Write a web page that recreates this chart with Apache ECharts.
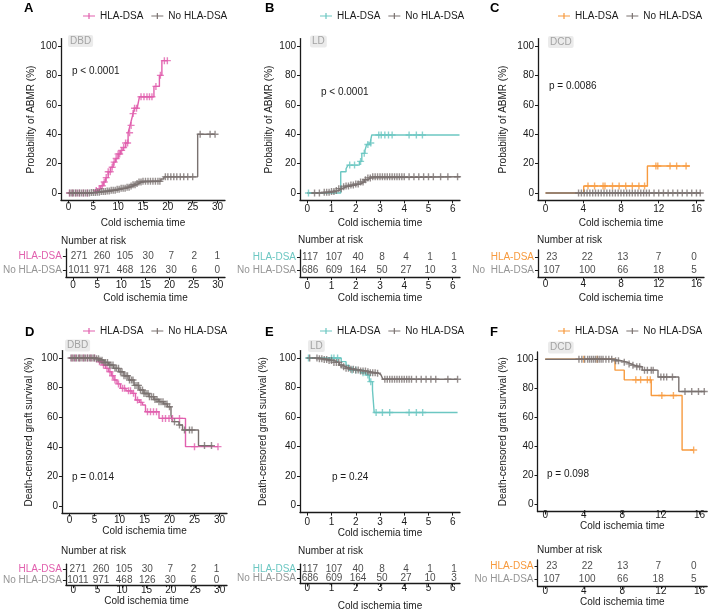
<!DOCTYPE html>
<html><head><meta charset="utf-8">
<script src="https://cdn.jsdelivr.net/npm/echarts@6/dist/echarts.min.js"></script>
<style>html,body{margin:0;padding:0;background:#fff}#c{width:708px;height:612px}</style>
</head><body><div id="c"></div>
<script>
// ---------------- DATA ----------------
const riskRows = ['No HLA-DSA', 'HLA-DSA'];
const ticksDBD = [0, 5, 10, 15, 20, 25, 30];
const ticksLD = [0, 1, 2, 3, 4, 5, 6];
const ticksDCD = [0, 4, 8, 12, 16];
const yTicks = [0, 20, 40, 60, 80, 100];

const riskA_dsa = [271, 260, 105, 30, 7, 2, 1];
const riskA_no = [1011, 971, 468, 126, 30, 6, 0];
const riskB_dsa = [117, 107, 40, 8, 4, 1, 1];
const riskB_no = [686, 609, 164, 50, 27, 10, 3];
const riskC_dsa = [23, 22, 13, 7, 0];
const riskC_no = [107, 100, 66, 18, 5];
const riskD_dsa = [271, 260, 105, 30, 7, 2, 1];
const riskD_no = [1011, 971, 468, 126, 30, 6, 0];
const riskE_dsa = [117, 107, 40, 8, 4, 1, 1];
const riskE_no = [686, 609, 164, 50, 27, 10, 3];
const riskF_dsa = [23, 22, 13, 7, 0];
const riskF_no = [107, 100, 66, 18, 5];

// KM step curves [time, %]
const A_dsa = [[0,0],[4.4,0.5],[5,1],[5.5,1.8],[6,3],[6.5,5],[7,7.5],[7.5,10.5],[8,14.5],[8.5,17.5],[9,21],[9.5,23.5],[10,26.5],[10.5,29],[11,31],[11.5,34],[12,41],[12.4,46],[12.7,50],[13,54],[13.3,57.6],[13.9,59],[14.3,65.5],[17.2,72.5],[18.3,80],[18.8,90],[19.9,90]];
const A_dsa_cens = [0.2,0.8,1.5,2.2,3,3.8,5.6,6.2,6.8,7.2,7.6,8,8.4,8.8,9.2,9.6,10,10.3,10.7,11.1,11.5,11.9,12.3,12.6,13,13.3,13.7,14.6,15.2,15.8,16.3,16.8,17.6,18.5,19.3,19.9];
const A_no = [[0,0],[4.5,0.3],[5.5,0.6],[6.5,1],[7.5,1.4],[8.5,1.9],[9.5,2.5],[10.5,3.2],[11.5,4],[12.3,4.8],[13,5.6],[13.6,6.5],[14.2,7.5],[14.8,8],[18.6,9.5],[19.2,11],[26,40],[29.5,40]];
const A_no_cens = [0.3,0.7,1,1.4,1.8,2.2,2.6,3,3.4,3.8,4.2,4.6,5,5.4,5.8,6.2,6.6,7,7.4,7.8,8.2,8.6,9,9.4,9.8,10.2,10.6,11,11.4,11.8,12.2,12.6,13,13.4,13.8,14.2,14.6,15,15.5,16,16.5,17,17.5,18,18.4,19.5,20,20.6,21.2,21.8,22.5,23.2,24,25,26.5,28.5,29.5];

const B_dsa = [[0,0],[1.38,14.5],[1.6,16.5],[1.68,19],[2.15,21.5],[2.25,27],[2.38,29],[2.45,33],[2.58,34],[2.66,39.5],[6.28,39.5]];
const B_dsa_cens = [0.05,1.75,1.95,2.2,2.35,2.5,2.62,2.95,3.05,3.2,3.35,3.5,4.2,4.5,4.75];
const B_no = [[0,0],[0.7,0.5],[0.95,1],[1.15,1.8],[1.3,3],[1.45,4.2],[1.6,4.8],[1.8,5.5],[2,6.2],[2.2,7.5],[2.35,9],[2.5,10.3],[2.62,11.1],[6.3,11.1]];
const B_no_cens = [0.3,0.5,0.7,0.8,0.9,1,1.1,1.2,1.3,1.4,1.5,1.6,1.7,1.8,1.9,2,2.1,2.2,2.3,2.4,2.5,2.6,2.7,2.8,2.9,3,3.1,3.2,3.3,3.4,3.5,3.6,3.7,3.8,3.9,4,4.2,4.4,4.6,4.8,5,5.2,5.5,5.8,6.2];

const C_dsa = [[0,0],[4.05,4.8],[10.8,18.4],[15.3,18.4]];
const C_dsa_cens = [4.5,5.2,6.1,6.3,7.1,7.8,8.5,9.2,9.9,10.5,11.7,11.9,13.2,13.9,14.9];
const C_no = [[0,0],[16.5,0]];
const C_no_cens = [3.5,3.8,4.1,4.4,4.7,5,5.3,5.6,5.9,6.2,6.5,6.8,7.1,7.4,7.7,8,8.3,8.6,8.9,9.2,9.5,9.8,10.1,10.4,10.7,11,11.5,12,12.5,13,13.5,14,14.5,15,15.5,16,16.4];

const D_dsa = [[0,100],[5.2,99],[5.8,97.5],[6.5,95.3],[7.2,93],[7.85,90.7],[8.4,88],[8.9,85.1],[9.5,82.5],[10.2,79.5],[11.3,77.8],[12.5,76.1],[13.2,71.6],[14,70],[14.6,68.2],[15.2,63.7],[17.9,59.2],[23.2,40.1],[29.7,40.1]];
const D_dsa_cens = [0.5,1.2,2,2.8,3.6,4.3,5,6,6.8,7.5,8.1,8.6,9.1,9.8,10.6,11,11.8,12.2,12.8,13.6,14.3,15.6,16.2,16.8,17.4,18.6,19.2,19.9,20.6,22,25,29.7];
const D_no = [[0,100],[5.2,99.5],[6,98.5],[6.9,97],[7.85,95.3],[8.8,93],[9.87,90.7],[10.9,88],[11.9,85.1],[12.9,81.5],[13.9,78.4],[14.9,76],[15.9,73.9],[16.9,72],[17.9,70.5],[18.8,69],[19.6,67.1],[20.3,61.5],[20.6,57],[21.9,54.7],[22.6,51.4],[25.8,40.8],[28.6,40.8]];
const D_no_cens = [0.3,0.7,1,1.4,1.8,2.1,2.5,2.9,3.2,3.6,4,4.3,4.7,5,5.4,5.8,6.1,6.5,6.9,7.2,7.6,8,8.3,8.7,9.1,9.4,9.8,10.2,10.5,10.9,11.3,11.6,12,12.4,12.7,13.1,13.5,13.8,14.2,14.6,14.9,15.3,15.7,16,16.4,16.8,17.1,17.5,17.9,18.3,18.7,19.1,19.5,20,21,22,23,24,24.5,27,28.4];

const E_dsa = [[0,100],[1.4,97.5],[1.6,95],[1.73,91.8],[2.2,90],[2.42,88.4],[2.56,83.9],[2.69,78.2],[2.76,63],[6.2,63]];
const E_dsa_cens = [0.05,1.0,1.1,1.25,1.85,2.0,2.3,2.5,2.62,2.84,3.1,3.4,4.2,4.5,4.76];
const E_no = [[0,100],[0.45,99.5],[0.7,99],[0.9,98.3],[1.1,97],[1.32,95.2],[1.45,94],[1.6,93],[1.8,92.3],[2,91.8],[2.2,91.2],[2.42,90.7],[2.6,90],[2.83,89.6],[2.95,88.5],[3.04,87.3],[3.12,85.5],[6.2,85.5]];
const E_no_cens = [0.1,0.4,0.5,0.6,0.7,0.8,0.9,1,1.1,1.2,1.3,1.4,1.5,1.6,1.7,1.8,1.9,2,2.1,2.2,2.3,2.4,2.5,2.6,2.7,2.8,2.9,3.2,3.3,3.4,3.5,3.6,3.7,3.8,3.9,4,4.1,4.2,4.3,4.5,4.7,4.9,5.1,5.3,5.8,6.2];

const F_dsa = [[0,100],[7.24,92.5],[8.2,85.8],[11,75],[14.2,37.4],[15.4,37.4]];
const F_dsa_cens = [4.0,5.4,9.4,9.9,10.6,10.9,12.1,13.3,15.4];
const F_no = [[0,100],[7.1,99],[7.9,98],[8.5,96.8],[8.9,95.8],[9.3,94.8],[10.06,92.5],[11.7,87.8],[13.86,77.8],[16.6,77.8]];
const F_no_cens = [3.5,3.8,4.1,4.4,4.6,4.8,5,5.2,5.4,5.6,5.8,6,6.3,6.6,6.9,7.3,7.6,8.2,8.7,9.1,9.5,9.8,10.3,10.6,11,11.2,12,12.3,12.6,13.2,14.5,15.2,15.9,16.5];

// ---------------- STYLE / LAYOUT ----------------
const FONT = '"Liberation Sans", Arial, Helvetica, sans-serif';
const INK = '#1a1a1a';
const PINK = '#E160AE', CYAN = '#6CC7C2', ORANGE = '#F79A3E', GRAY = '#7A7270', LABGRAY = '#959595';
const PLUS = 'path://M-0.2,-1H0.2V-0.2H1V0.2H0.2V1H-0.2V0.2H-1V-0.2H-0.2Z';
const LEGICON = 'path://M0,2.4H12V3.6H0Z M5.4,0H6.6V6H5.4Z';
const Y_ABMR = 'Probability of ABMR (%)', Y_SURV = 'Death-censored graft survival (%)';

// nr = range of the (hidden) scale used to place the numbers of the risk table
const panels = [
 {id:'A', tag:'DBD', p:'p < 0.0001', col:PINK, yName:Y_ABMR, dsa:A_dsa, dsaC:A_dsa_cens, no:A_no, noC:A_no_cens, ticks:ticksDBD, xr:[-1.5,31.5], nr:[-2.84,31.68], rd:riskA_dsa, rn:riskA_no, noLab:'No HLA-DSA',
  g:{left:61,top:38.6,width:164,height:161.8}, tg:{left:61,top:249,width:164,height:28}, xm:2, xg:17.5, tm:3, tgap:16, yg:24,
  leg:[83,11], let:[24,8], tagp:[68,41], pp:[72,71], nar:[61,241]},
 {id:'B', tag:'LD', p:'p < 0.0001', col:CYAN, yName:Y_ABMR, dsa:B_dsa, dsaC:B_dsa_cens, no:B_no, noC:B_no_cens, ticks:ticksLD, xr:[-0.3,6.3], nr:[-0.42,6.25], rd:riskB_dsa, rn:riskB_no, noLab:'No HLA-DSA',
  g:{left:300,top:38.6,width:160,height:161.8}, tg:{left:300,top:250,width:160,height:27}, xm:4, xg:17.5, tm:4.5, tgap:16, yg:26,
  leg:[320,11], let:[265,8], tagp:[310,41.5], pp:[321,92.5], nar:[298,240]},
 {id:'C', tag:'DCD', p:'p = 0.0086', col:ORANGE, yName:Y_ABMR, dsa:C_dsa, dsaC:C_dsa_cens, no:C_no, noC:C_no_cens, ticks:ticksDCD, xr:[-0.8,16.8], nr:[-1.54,17.12], rd:riskC_dsa, rn:riskC_no, noLab:'No  HLA-DSA',
  g:{left:538,top:38.6,width:166,height:161.8}, tg:{left:538,top:250,width:166,height:27}, xm:4, xg:17.5, tm:2.5, tgap:16, yg:30,
  leg:[558,11], let:[490,8], tagp:[548,42], pp:[549,86], nar:[537,240]},
 {id:'D', tag:'DBD', p:'p = 0.014', col:PINK, yName:Y_SURV, dsa:D_dsa, dsaC:D_dsa_cens, no:D_no, noC:D_no_cens, ticks:ticksDBD, xr:[-1.5,31.5], nr:[-2.6,32.26], rd:riskD_dsa, rn:riskD_no, noLab:'No HLA-DSA',
  g:{left:62,top:350.6,width:165,height:162.8}, tg:{left:62,top:564.2,width:165,height:21}, xm:2, xg:13, tm:0, tgap:5, yg:28,
  leg:[83,326], let:[25,332.5], tagp:[65,345.5], pp:[72,477.5], nar:[61,551.7]},
 {id:'E', tag:'LD', p:'p = 0.24', col:CYAN, yName:Y_SURV, dsa:E_dsa, dsaC:E_dsa_cens, no:E_no, noC:E_no_cens, ticks:ticksLD, xr:[-0.3,6.3], nr:[-0.42,6.25], rd:riskE_dsa, rn:riskE_no, noLab:'No HLA-DSA',
  g:{left:300,top:350.6,width:160,height:162}, tg:{left:300,top:564.2,width:160,height:21}, xm:4.5, xg:16, tm:0, tgap:17.5, yg:32,
  leg:[320,326], let:[265,332.5], tagp:[308,346], pp:[332,477.5], nar:[298,551.7]},
 {id:'F', tag:'DCD', p:'p = 0.098', col:ORANGE, yName:Y_SURV, dsa:F_dsa, dsaC:F_dsa_cens, no:F_no, noC:F_no_cens, ticks:ticksDCD, xr:[-0.8,16.8], nr:[-1.6,17.52], rd:riskF_dsa, rn:riskF_no, noLab:'No HLA-DSA',
  g:{left:537.5,top:352,width:170,height:159.5}, tg:{left:537.5,top:560,width:170,height:26}, xm:-1.5, xg:9, tm:0.5, tgap:11, yg:29.5,
  leg:[558,326], let:[490,332.5], tagp:[548,347.5], pp:[547,474.5], nar:[537,550]}
];

function stepAt(steps, t) {
  let y = steps[0][1];
  for (const p of steps) { if (p[0] <= t) y = p[1]; else break; }
  return y;
}
const txt = (extra) => Object.assign({fontSize:10, color:INK, fontFamily:FONT}, extra || {});
const axLine = {show:true, onZero:false, lineStyle:{color:INK, width:1.3}};

const option = {animation:false, backgroundColor:'#fff', grid:[], xAxis:[], yAxis:[], legend:[], series:[], graphic:[]};

panels.forEach((P) => {
  const gi = option.grid.length;
  option.grid.push(Object.assign({containLabel:false}, P.g));
  option.grid.push(Object.assign({containLabel:false}, P.tg));
  const xa = (gIdx, margin, gap) => ({
    gridIndex:gIdx, type:'value', min:P.xr[0], max:P.xr[1],
    axisLine:axLine,
    axisTick:{show:true, length:3, customValues:P.ticks, lineStyle:{color:INK, width:1}},
    axisLabel:{customValues:P.ticks, margin:margin, fontSize:10, color:INK, fontFamily:FONT},
    splitLine:{show:false},
    name:'Cold ischemia time', nameLocation:'middle', nameGap:gap, nameTextStyle:txt()
  });
  const xMain = option.xAxis.length;
  option.xAxis.push(xa(gi, P.xm, P.xg));
  option.xAxis.push(xa(gi + 1, P.tm, P.tgap));
  const xNum = option.xAxis.length;
  option.xAxis.push({gridIndex:gi + 1, type:'value', min:P.nr[0], max:P.nr[1], show:false, splitLine:{show:false}});
  const yMain = option.yAxis.length;
  option.yAxis.push({
    gridIndex:gi, type:'value', min:-5, max:105,
    axisLine:axLine,
    axisTick:{show:true, length:3, customValues:yTicks, lineStyle:{color:INK, width:1}},
    axisLabel:{customValues:yTicks, margin:4, fontSize:10, color:INK, fontFamily:FONT},
    splitLine:{show:false},
    name:P.yName, nameLocation:'middle', nameGap:P.yg, nameRotate:90, nameTextStyle:txt()
  });
  const yTab = option.yAxis.length;
  option.yAxis.push({
    gridIndex:gi + 1, type:'category', data:riskRows,
    axisLine:axLine,
    axisTick:{show:true, length:3, alignWithLabel:true, interval:0, lineStyle:{color:INK, width:1}},
    axisLabel:{margin:4, interval:0, fontFamily:FONT, fontSize:10,
      formatter:(v) => v === 'HLA-DSA' ? '{d|HLA-DSA}' : '{n|' + P.noLab + '}',
      rich:{d:{color:P.col, fontSize:10, fontFamily:FONT}, n:{color:LABGRAY, fontSize:10, fontFamily:FONT}}},
    splitLine:{show:false}
  });
  const nD = P.id + ':HLA-DSA', nN = P.id + ':No HLA-DSA';
  const line = (name, data, col) => ({type:'line', name:name, xAxisIndex:xMain, yAxisIndex:yMain, data:data, step:'end',
    symbol:'none', showSymbol:false, lineStyle:{color:col, width:1.4}, itemStyle:{color:col}, silent:true, z:2});
  const cens = (name, steps, times, col) => ({type:'scatter', name:name, xAxisIndex:xMain, yAxisIndex:yMain,
    data:times.map(t => [t, stepAt(steps, t)]), symbol:PLUS, symbolSize:7, itemStyle:{color:col}, silent:true, z:3});
  option.series.push(line(nD, P.dsa, P.col));
  option.series.push(cens(P.id + ':cd', P.dsa, P.dsaC, P.col));
  option.series.push(line(nN, P.no, GRAY));
  option.series.push(cens(P.id + ':cn', P.no, P.noC, GRAY));
  const riskData = P.ticks.map((t, i) => [t, 'HLA-DSA', P.rd[i]]).concat(P.ticks.map((t, i) => [t, 'No HLA-DSA', P.rn[i]]));
  option.series.push({type:'scatter', name:P.id + ':risk', xAxisIndex:xNum, yAxisIndex:yTab, data:riskData,
    symbolSize:0, itemStyle:{color:'transparent'}, silent:true,
    label:{show:true, position:[0,0], align:'center', verticalAlign:'middle', formatter:(p) => String(p.value[2]), fontSize:10, color:INK, fontFamily:FONT}});
  option.legend.push({left:P.leg[0], top:P.leg[1], orient:'horizontal', itemWidth:12, itemHeight:6, itemGap:8, icon:LEGICON,
    selectedMode:false, data:[nD, nN], formatter:(n) => n.split(':')[1], textStyle:txt(), padding:0});
  option.graphic.push({type:'text', x:P.let[0], y:P.let[1], style:{text:P.id, font:'bold 13px ' + FONT, fill:'#000', verticalAlign:'middle'}});
  option.graphic.push({type:'text', x:P.tagp[0], y:P.tagp[1], style:{text:P.tag, font:'10px ' + FONT, fill:'#a3a3a3', verticalAlign:'middle',
    backgroundColor:'#ebebeb', padding:[1,2,1,2], borderRadius:2}});
  option.graphic.push({type:'text', x:P.pp[0], y:P.pp[1], style:{text:P.p, font:'10px ' + FONT, fill:INK, verticalAlign:'middle'}});
  option.graphic.push({type:'text', x:P.nar[0], y:P.nar[1], style:{text:'Number at risk', font:'10px ' + FONT, fill:INK, verticalAlign:'middle'}});
});

const chart = echarts.init(document.getElementById('c'), null, {renderer:'canvas', width:708, height:612});
chart.setOption(option);
</script>
</body></html>
